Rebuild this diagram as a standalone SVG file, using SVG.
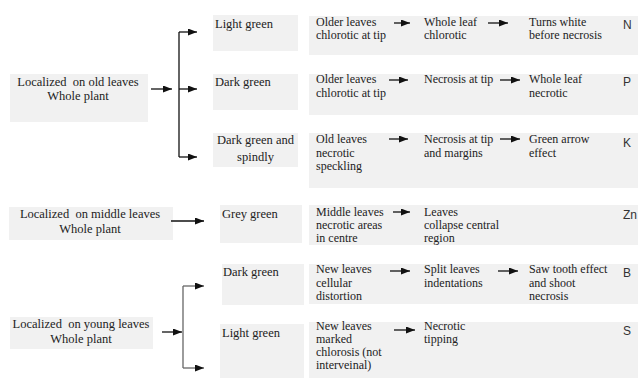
<svg xmlns="http://www.w3.org/2000/svg" width="638" height="378" viewBox="0 0 638 378">
<defs>
<marker id="ah" markerWidth="9" markerHeight="7" refX="9" refY="3.5" orient="auto" markerUnits="userSpaceOnUse">
<path d="M0,0 L9,3.5 L0,7 Z" fill="#111"/>
</marker>
<style>
.box{fill:#f1f1f1;}
.t{font-family:"Liberation Serif","Times New Roman",serif;font-size:12px;fill:#222;white-space:pre;}
.l{font-family:"Liberation Serif","Times New Roman",serif;font-size:12.5px;fill:#222;white-space:pre;}
.c{text-anchor:middle;}
.s{font-family:"Liberation Sans",Arial,sans-serif;font-size:12px;fill:#333;}
.ln{stroke:#111;stroke-width:1.3;fill:none;}
.ar{stroke:#111;stroke-width:1.3;fill:none;marker-end:url(#ah);}
.g{stroke:#666;}
</style>
</defs>
<rect width="638" height="378" fill="#fff"/>

<g id="old">
<rect class="box" x="10" y="74" width="138" height="48"/>
<text class="l c" x="78" y="86">Localized  on old leaves</text>
<text class="l c" x="78" y="100">Whole plant</text>
</g>
<g id="middle">
<rect class="box" x="9" y="207" width="164" height="33"/>
<text class="l c" x="90" y="218">Localized  on middle leaves</text>
<text class="l c" x="90" y="233">Whole plant</text>
</g>
<g id="young">
<rect class="box" x="10" y="317" width="143" height="32"/>
<text class="l c" x="81" y="328">Localized  on young leaves</text>
<text class="l c" x="81" y="343">Whole plant</text>
</g>

<g id="lightgreen1">
<rect class="box" x="213" y="15" width="85" height="36"/>
<text class="l" x="215" y="28">Light green</text>
</g>
<g id="darkgreen1">
<rect class="box" x="213" y="74" width="85" height="36"/>
<text class="l" x="215" y="86">Dark green</text>
</g>
<g id="spindly">
<rect class="box" x="213" y="133" width="85" height="34"/>
<text class="l c" x="255.5" y="144">Dark green and</text>
<text class="l c" x="255.5" y="161">spindly</text>
</g>
<g id="greygreen">
<rect class="box" x="220" y="205" width="82" height="38"/>
<text class="l" x="222" y="218">Grey green</text>
</g>
<g id="darkgreen2">
<rect class="box" x="222" y="264" width="82" height="41"/>
<text class="l" x="223" y="276">Dark green</text>
</g>
<g id="lightgreen2">
<rect class="box" x="220" y="324" width="84" height="54"/>
<text class="l" x="222" y="337">Light green</text>
</g>

<g id="rowN">
<rect class="box" x="309" y="16" width="329" height="39"/>
<text class="t" x="316" y="26">Older leaves</text>
<text class="t" x="316" y="39">chlorotic at tip</text>
<text class="t" x="424" y="26">Whole leaf</text>
<text class="t" x="424" y="39">chlorotic</text>
<text class="t" x="529" y="26">Turns white</text>
<text class="t" x="529" y="39">before necrosis</text>
<text class="s" x="623" y="29">N</text>
</g>
<g id="rowP">
<rect class="box" x="309" y="74" width="329" height="41"/>
<text class="t" x="316" y="83">Older leaves</text>
<text class="t" x="316" y="97">chlorotic at tip</text>
<text class="t" x="424" y="83">Necrosis at tip</text>
<text class="t" x="529" y="83">Whole leaf</text>
<text class="t" x="529" y="97">necrotic</text>
<text class="s" x="623" y="86">P</text>
</g>
<g id="rowK">
<rect class="box" x="309" y="133" width="329" height="55"/>
<text class="t" x="316" y="143">Old leaves</text>
<text class="t" x="316" y="157">necrotic</text>
<text class="t" x="316" y="170">speckling</text>
<text class="t" x="424" y="143">Necrosis at tip</text>
<text class="t" x="424" y="157">and margins</text>
<text class="t" x="529" y="143">Green arrow</text>
<text class="t" x="529" y="157">effect</text>
<text class="s" x="623" y="147">K</text>
</g>
<g id="rowZn">
<rect class="box" x="309" y="205" width="329" height="40"/>
<text class="t" x="316" y="216">Middle leaves</text>
<text class="t" x="316" y="229">necrotic areas</text>
<text class="t" x="316" y="242">in centre</text>
<text class="t" x="424" y="216">Leaves</text>
<text class="t" x="424" y="229">collapse central</text>
<text class="t" x="424" y="242">region</text>
<text class="s" x="623" y="219">Zn</text>
</g>
<g id="rowB">
<rect class="box" x="309" y="264" width="329" height="40"/>
<text class="t" x="316" y="273">New leaves</text>
<text class="t" x="316" y="287">cellular</text>
<text class="t" x="316" y="300">distortion</text>
<text class="t" x="424" y="273">Split leaves</text>
<text class="t" x="424" y="287">indentations</text>
<text class="t" x="529" y="273">Saw tooth effect</text>
<text class="t" x="529" y="287">and shoot</text>
<text class="t" x="529" y="300">necrosis</text>
<text class="s" x="623" y="277">B</text>
</g>
<g id="rowS">
<rect class="box" x="309" y="322" width="329" height="56"/>
<text class="t" x="316" y="330">New leaves</text>
<text class="t" x="316" y="343">marked</text>
<text class="t" x="316" y="356">chlorosis (not</text>
<text class="t" x="316" y="369">interveinal)</text>
<text class="t" x="424" y="330">Necrotic</text>
<text class="t" x="424" y="343">tipping</text>
<text class="s" x="623" y="335">S</text>
</g>

<g id="connectors">
<path class="ar" d="M151,89 H172"/>
<path class="ln" d="M179,32 V157"/>
<path class="ar" d="M179,32 H197"/>
<path class="ar" d="M179,89 H197"/>
<path class="ar" d="M179,157 H197"/>
<path class="ar" d="M171,221 H204"/>
<path class="ar" d="M162,332 H182"/>
<path class="ln g" d="M183,286 V368"/>
<path class="ar g" d="M183,286 H204"/>
<path class="ar g" d="M183,368 H204"/>
<path class="ar" d="M394,23 H410"/>
<path class="ar" d="M488,23 H508"/>
<path class="ar" d="M389,80 H408"/>
<path class="ar" d="M500,80 H520"/>
<path class="ar" d="M389,139 H408"/>
<path class="ar" d="M500,139 H520"/>
<path class="ar" d="M393,212 H410"/>
<path class="ar" d="M390,271 H410"/>
<path class="ar" d="M498,271 H518"/>
<path class="ar" d="M394,330 H415"/>
</g>
</svg>
